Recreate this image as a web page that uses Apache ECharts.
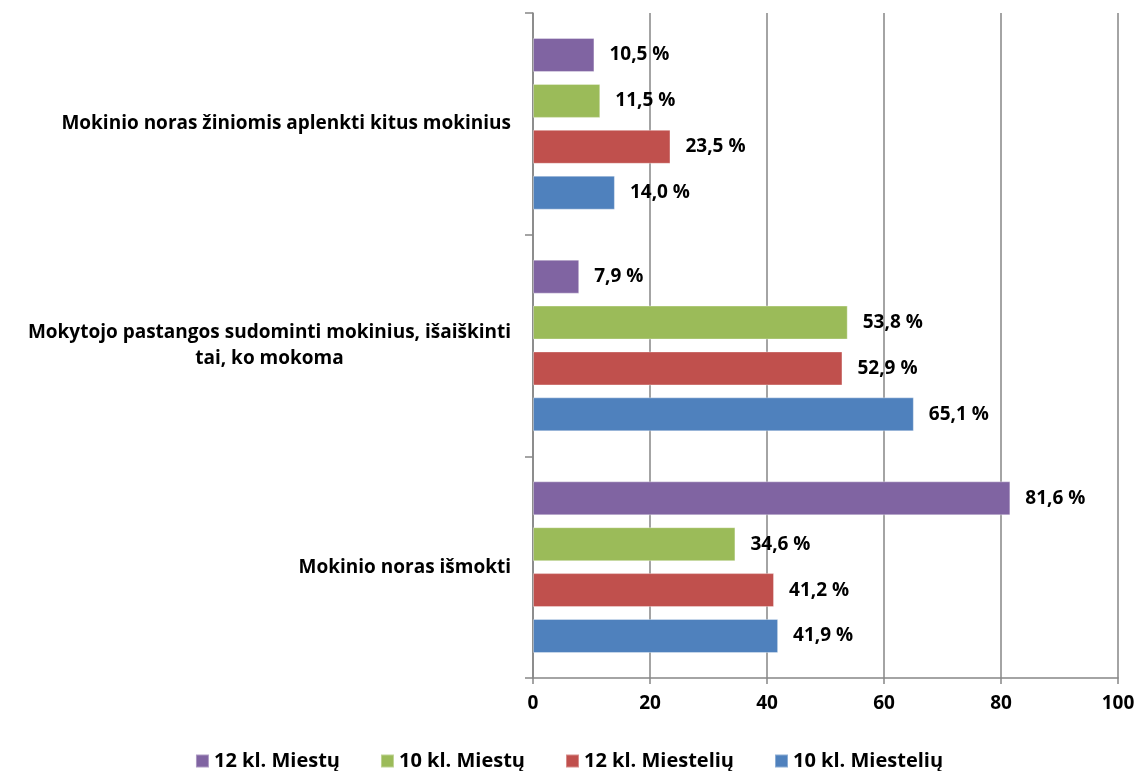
<!DOCTYPE html>
<html>
<head>
<meta charset="utf-8">
<script src="https://cdn.jsdelivr.net/npm/echarts@6/dist/echarts.min.js"></script>
<style>
  html, body { margin: 0; padding: 0; background: #fff; }
  #chart { width: 1138px; height: 771px; }
</style>
</head>
<body>
<div id="chart"></div>
<script>
// kategorijos (iš apačios į viršų)
const categories = [
  'Mokinio noras išmokti',
  'Mokytojo pastangos sudominti mokinius, išaiškinti\ntai, ko mokoma',
  'Mokinio noras žiniomis aplenkti kitus mokinius'
];

// serijų reikšmės (%)
const kl12Miestu = [81.6, 7.9, 10.5];
const kl10Miestu = [34.6, 53.8, 11.5];
const kl12Miesteliu = [41.2, 52.9, 23.5];
const kl10Miesteliu = [41.9, 65.1, 14.0];

const xTicks = [0, 20, 40, 60, 80, 100];

const FONT = '"Open Sans", Lato, sans-serif';

const myChart = echarts.init(document.getElementById('chart'));

function barSeries(name, data, color) {
  return {
    name: name,
    type: 'bar',
    data: data,
    barWidth: 34,
    barGap: '35%',
    itemStyle: { color: color, borderColor: 'rgba(255,255,255,0.35)', borderWidth: 1 },
    label: {
      show: true,
      position: 'right',
      distance: 15,
      color: '#000',
      fontFamily: FONT,
      fontWeight: 'bold',
      fontSize: 19,
      formatter: p => p.value.toFixed(1).replace('.', ',') + ' %'
    }
  };
}

const option = {
  animation: false,
  backgroundColor: '#fff',
  grid: { left: 533, right: 20, top: 13, bottom: 93 },
  legend: {
    top: 746,
    left: 'center',
    itemWidth: 13,
    itemHeight: 13,
    itemGap: 40,
    icon: 'rect',
    data: ['12 kl. Miestų', '10 kl. Miestų', '12 kl. Miestelių', '10 kl. Miestelių'],
    textStyle: { fontFamily: FONT, fontWeight: 'bold', fontSize: 20, color: '#000' }
  },
  xAxis: {
    type: 'value',
    min: xTicks[0],
    max: xTicks[xTicks.length - 1],
    interval: 20,
    axisLine: { show: true, lineStyle: { color: '#868686', width: 1.5 } },
    axisTick: { show: true, length: 6, lineStyle: { color: '#868686', width: 1.5 } },
    splitLine: { show: true, lineStyle: { color: '#868686', width: 1.5 } },
    axisLabel: {
      margin: 16,
      color: '#000',
      fontFamily: FONT,
      fontWeight: 'bold',
      fontSize: 19
    }
  },
  yAxis: {
    type: 'category',
    data: categories,
    axisLine: { show: true, lineStyle: { color: '#868686', width: 1.5 } },
    axisTick: { show: true, length: 8, lineStyle: { color: '#868686', width: 1.5 } },
    axisLabel: {
      margin: 22,
      color: '#000',
      fontFamily: FONT,
      fontWeight: 'bold',
      fontSize: 19,
      lineHeight: 26,
      formatter: v => v.split('\n').map(s => '{c|' + s + '}').join('\n'),
      rich: {
        c: { align: 'center', fontFamily: FONT, fontWeight: 'bold', fontSize: 19, lineHeight: 26, color: '#000' }
      }
    }
  },
  series: [
    barSeries('12 kl. Miestų', kl12Miestu, '#8064A2'),
    barSeries('10 kl. Miestų', kl10Miestu, '#9BBB59'),
    barSeries('12 kl. Miestelių', kl12Miesteliu, '#C0504D'),
    barSeries('10 kl. Miestelių', kl10Miesteliu, '#4F81BD')
  ]
};

myChart.setOption(option);

window.addEventListener('resize', () => myChart.resize());
</script>
</body>
</html>
